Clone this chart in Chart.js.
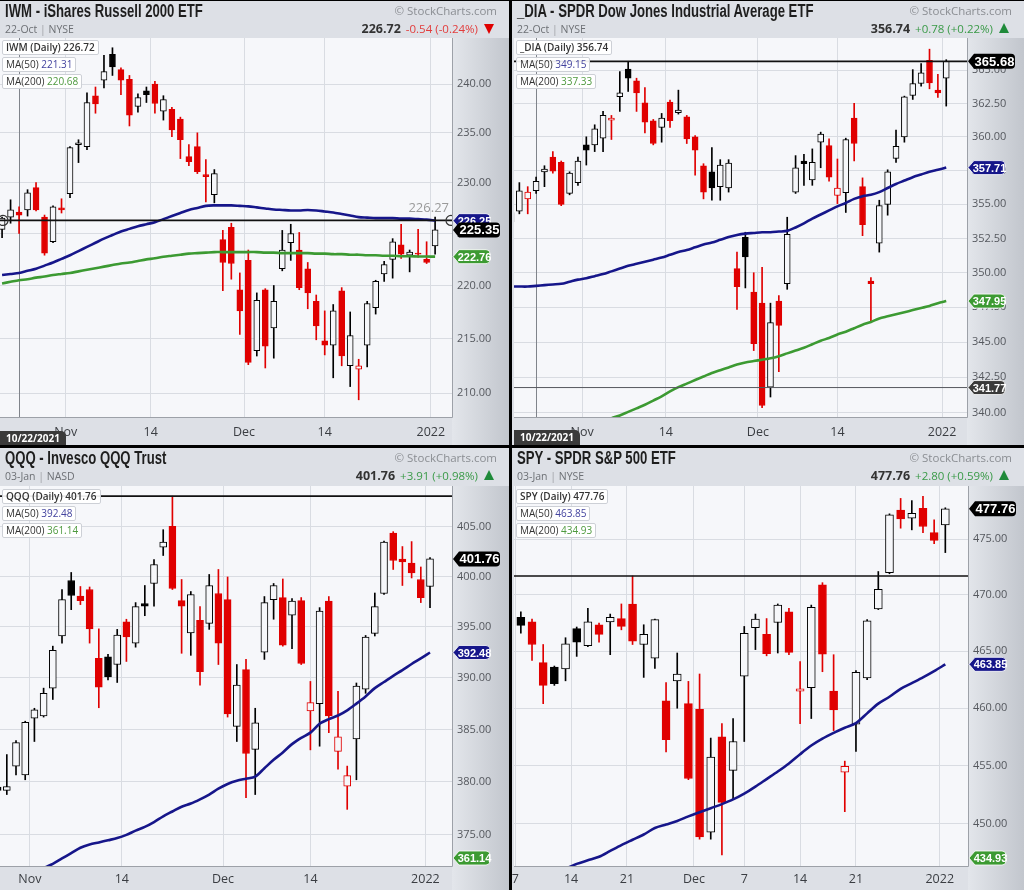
<!DOCTYPE html>
<html>
<head>
<meta charset="utf-8">
<script src="https://cdn.jsdelivr.net/npm/chart.js@4.4.0/dist/chart.umd.min.js"></script>
<style>
body{margin:0;width:1024px;height:890px;background:#000;position:relative;overflow:hidden;font-family:"Open Sans",sans-serif}
.panel{position:absolute;background:#dde0e6;overflow:hidden}
.panel canvas{position:absolute;left:0;top:0}
.title{position:absolute;left:5px;top:0;font:bold 18px/20px "Liberation Sans",Arial,sans-serif;color:#1e1e1e;white-space:nowrap;transform:scaleX(0.73);transform-origin:0 0}
.copy{position:absolute;right:12px;top:3px;font-size:11.5px;line-height:14px;color:#8b8e93}
.sub{position:absolute;left:5px;top:22px;font-size:10.5px;line-height:13px;color:#6d7075}
.sub span{color:#a0a3a8}
.quote{position:absolute;right:15px;top:21px;font-size:11.5px;line-height:14px;color:#333;white-space:nowrap}
.quote b{font-weight:700;font-size:12.5px;margin-right:5px}
.dn{color:#e23c3c}
.up{color:#3a9a48}
.tri-dn{display:inline-block;width:0;height:0;border-left:5px solid transparent;border-right:5px solid transparent;border-top:10px solid #e00000;margin-left:6px;vertical-align:-1px}
.tri-up{display:inline-block;width:0;height:0;border-left:5px solid transparent;border-right:5px solid transparent;border-bottom:10px solid #1f8a3a;margin-left:6px;vertical-align:0}
.leg{position:absolute}
.lb{width:fit-content;background:rgba(255,255,255,0.92);border:1px solid #cdd0d6;border-radius:2px;padding:0 3px;font-size:10px;line-height:13px;color:#333;margin-bottom:2px;white-space:nowrap}
.lb b{font-weight:600}
.v50{color:#43439e}
.v200{color:#4f9a3f}
.datebox{position:absolute;width:66px;height:15px;background:#3a3a3a;border-radius:0 5px 0 0;color:#fff;font-size:10px;font-weight:700;line-height:15px;text-align:center}
</style>
</head>
<body>

<div class="panel" style="left:0;top:1px;width:509px;height:444px">
  <canvas id="c1" width="509" height="444"></canvas>
  <div class="title">IWM - iShares Russell 2000 ETF</div>
  <div class="copy">© StockCharts.com</div>
  <div class="sub">22-Oct <span>|</span> NYSE</div>
  <div class="quote"><b>226.72</b><span class="dn">-0.54 (-0.24%)</span><i class="tri-dn"></i></div>
  <div class="leg" style="left:2px;top:39px">
    <div class="lb"><b>IWM (Daily) 226.72</b></div>
    <div class="lb">MA(50) <span class="v50">221.31</span></div>
    <div class="lb">MA(200) <span class="v200">220.68</span></div>
  </div>
  <div class="datebox" style="left:0;top:430px">10/22/2021</div>
</div>

<div class="panel" style="left:512px;top:1px;width:512px;height:444px">
  <canvas id="c2" width="512" height="444"></canvas>
  <div class="title">_DIA - SPDR Dow Jones Industrial Average ETF</div>
  <div class="copy">© StockCharts.com</div>
  <div class="sub">22-Oct <span>|</span> NYSE</div>
  <div class="quote"><b>356.74</b><span class="up">+0.78 (+0.22%)</span><i class="tri-up"></i></div>
  <div class="leg" style="left:4px;top:39px">
    <div class="lb"><b>_DIA (Daily) 356.74</b></div>
    <div class="lb">MA(50) <span class="v50">349.15</span></div>
    <div class="lb">MA(200) <span class="v200">337.33</span></div>
  </div>
  <div class="datebox" style="left:2px;top:429px">10/22/2021</div>
</div>

<div class="panel" style="left:0;top:448px;width:509px;height:442px">
  <canvas id="c3" width="509" height="442"></canvas>
  <div class="title">QQQ - Invesco QQQ Trust</div>
  <div class="copy">© StockCharts.com</div>
  <div class="sub">03-Jan <span>|</span> NASD</div>
  <div class="quote"><b>401.76</b><span class="up">+3.91 (+0.98%)</span><i class="tri-up"></i></div>
  <div class="leg" style="left:2px;top:41px">
    <div class="lb"><b>QQQ (Daily) 401.76</b></div>
    <div class="lb">MA(50) <span class="v50">392.48</span></div>
    <div class="lb">MA(200) <span class="v200">361.14</span></div>
  </div>
</div>

<div class="panel" style="left:512px;top:448px;width:512px;height:442px">
  <canvas id="c4" width="512" height="442"></canvas>
  <div class="title">SPY - SPDR S&amp;P 500 ETF</div>
  <div class="copy">© StockCharts.com</div>
  <div class="sub">03-Jan <span>|</span> NYSE</div>
  <div class="quote"><b>477.76</b><span class="up">+2.80 (+0.59%)</span><i class="tri-up"></i></div>
  <div class="leg" style="left:4px;top:41px">
    <div class="lb"><b>SPY (Daily) 477.76</b></div>
    <div class="lb">MA(50) <span class="v50">463.85</span></div>
    <div class="lb">MA(200) <span class="v200">434.93</span></div>
  </div>
</div>

<script>
// x values are trading-day numbers, 0 = Nov 1 2021, 43 = Jan 3 2022
const monthTicks = [-0.5, 9.5, 20.5, 30, 42.5];
const monthLabels = ['Nov', '14', 'Dec', '14', '2022'];
const weekTicks = [4.5, 9.5, 14.5, 20.5, 25, 30, 35, 42.5];
const weekLabels = ['7', '14', '21', 'Dec', '7', '14', '21', '2022'];

// IWM, days -8 .. 43
const iwmStart = -8;
const iwmOpen = [225.4, 226.6, 227.1, 227.3, 229.5, 226.6, 224.2, 227.5,
  228.9, 233.8, 233.6, 238.8, 240.4, 243.1, 241.5, 240.5, 237.7, 239.3,
  240.0, 237.2, 237.4, 236.4, 232.6, 233.6, 230.8, 228.8, 224.4, 225.6,
  219.6, 222.4, 213.9, 219.6, 216.0, 221.6, 224.1, 223.4, 221.6, 218.5,
  214.8, 214.4, 219.5, 212.5, 212.2, 214.4, 217.9, 221.1, 222.5, 223.9,
  222.9, 223.1, 222.5, 223.8];
const iwmHigh = [226.6, 228.3, 227.6, 229.3, 230.0, 226.8, 227.7, 228.4,
  233.6, 234.3, 239.1, 239.7, 243.0, 243.8, 241.7, 240.9, 239.0, 239.7,
  240.3, 238.8, 237.6, 236.6, 233.8, 235.0, 232.3, 231.3, 225.3, 226.0,
  221.2, 223.4, 219.3, 219.7, 220.0, 225.3, 225.9, 225.1, 222.2, 219.1,
  217.6, 218.2, 219.8, 217.5, 213.1, 218.5, 220.5, 222.3, 224.5, 225.9,
  223.4, 225.4, 224.2, 226.6];
const iwmLow = [224.6, 226.0, 225.0, 226.7, 227.2, 222.9, 224.1, 227.0,
  228.5, 232.0, 233.3, 237.0, 239.6, 240.9, 238.9, 235.7, 237.1, 238.1,
  237.0, 236.3, 234.6, 232.4, 231.7, 230.9, 228.1, 228.0, 219.5, 220.6,
  215.4, 212.6, 213.4, 212.3, 213.2, 221.4, 222.4, 219.6, 217.8, 214.9,
  213.5, 211.4, 212.5, 210.6, 209.4, 212.4, 217.3, 220.4, 220.7, 222.6,
  221.3, 222.7, 222.1, 223.0];
const iwmClose = [226.5, 227.3, 226.8, 229.0, 227.3, 223.1, 227.6, 227.3,
  233.5, 234.0, 238.1, 237.95, 241.3, 241.8, 240.4, 236.8, 238.6, 238.9,
  238.0, 238.4, 235.3, 234.3, 232.1, 231.1, 230.6, 230.9, 222.2, 222.1,
  217.6, 212.8, 218.6, 214.3, 218.5, 223.4, 225.0, 219.8, 219.3, 216.2,
  214.4, 217.6, 213.4, 215.3, 212.5, 218.3, 220.4, 222.0, 224.2, 223.0,
  223.2, 223.0, 222.2, 225.35];
const iwmMa50 = [221.0, 221.1, 221.2, 221.4, 221.6, 221.9, 222.2, 222.55,
  222.9, 223.3, 223.7, 224.1, 224.5, 224.85, 225.2, 225.45, 225.7, 225.9,
  226.1, 226.4, 226.7, 227.0, 227.3, 227.5, 227.7, 227.75, 227.75, 227.75,
  227.7, 227.65, 227.55, 227.45, 227.35, 227.3, 227.25, 227.25, 227.3, 227.25,
  227.15, 227.05, 226.9, 226.75, 226.6, 226.55, 226.5, 226.5, 226.5, 226.45,
  226.45, 226.4, 226.35, 226.25];
const iwmMa200 = [220.2, 220.35, 220.5, 220.6, 220.75, 220.85, 221.0, 221.1,
  221.2, 221.35, 221.5, 221.65, 221.8, 221.95, 222.1, 222.2, 222.35, 222.5,
  222.6, 222.75, 222.85, 222.95, 223.05, 223.1, 223.15, 223.2, 223.2, 223.2,
  223.2, 223.2, 223.2, 223.15, 223.15, 223.1, 223.1, 223.1, 223.1, 223.05,
  223.05, 223.0, 223.0, 222.95, 222.95, 222.9, 222.9, 222.85, 222.85, 222.8,
  222.8, 222.78, 222.77, 222.76];
const iwmYTicks = [210, 215, 220, 225, 230, 235, 240];
const iwmLevels = [226.27];

// DIA, days -9 .. 43
const diaStart = -9;
const diaOpen = [354.4, 354.5, 355.4, 356.0, 357.4, 358.5, 358.1, 355.8, 356.6,
  359.4, 359.4, 359.9, 361.25, 363.0, 365.1, 364.2, 362.55, 361.2, 360.7,
  362.6, 361.8, 361.5, 360.0, 357.85, 357.4, 356.3, 356.2, 350.3, 352.57,
  348.6, 347.8, 341.8, 347.95, 349.2, 355.9, 358.2, 356.8, 359.6, 359.35,
  355.65, 355.85, 361.4, 356.3, 349.4, 352.15, 355.0, 358.4, 360.0, 363.1,
  364.0, 365.75, 363.5, 364.4];
const diaHigh = [354.6, 356.6, 356.3, 357.0, 357.85, 358.9, 358.2, 357.4, 358.5,
  360.0, 360.9, 361.9, 361.6, 364.9, 365.68, 364.4, 363.7, 361.3, 361.75,
  362.75, 363.5, 361.6, 360.1, 358.0, 359.2, 358.3, 358.3, 351.5, 352.95,
  350.0, 350.4, 347.8, 348.35, 354.05, 358.6, 358.7, 359.1, 360.35, 359.85,
  358.35, 359.9, 362.5, 356.95, 349.65, 355.3, 357.55, 360.5, 363.05, 365.05,
  365.5, 366.6, 364.7, 365.8];
const diaLow = [353.5, 354.3, 354.3, 355.8, 356.3, 357.3, 354.9, 355.7, 356.4,
  357.9, 358.9, 358.9, 359.8, 361.9, 363.4, 361.9, 360.3, 359.4, 359.6,
  360.7, 361.7, 359.5, 357.15, 355.4, 355.3, 355.3, 355.9, 347.35, 348.9,
  344.4, 340.35, 341.1, 342.9, 348.8, 355.8, 356.4, 356.4, 357.7, 356.7,
  355.05, 354.4, 358.2, 352.7, 346.4, 351.5, 354.2, 358.1, 359.6, 362.8,
  363.8, 363.6, 362.95, 362.3];
const diaClose = [353.7, 356.0, 355.9, 356.7, 357.6, 357.45, 355.0, 357.3, 358.2,
  359.0, 360.6, 361.6, 361.4, 363.3, 364.4, 363.3, 361.1, 359.5, 361.4,
  361.2, 362.0, 359.85, 359.0, 355.9, 356.2, 357.9, 358.05, 349.0, 351.15,
  344.9, 340.5, 346.4, 346.2, 352.8, 357.7, 358.0, 358.1, 360.2, 357.0,
  356.2, 359.8, 359.5, 353.5, 349.2, 354.9, 357.4, 359.3, 363.0, 364.0,
  364.8, 364.05, 363.3, 365.68];
const diaMa50 = [349.0, 349.0, 349.0, 349.05, 349.1, 349.15, 349.2, 349.35, 349.5,
  349.6, 349.75, 349.9, 350.1, 350.3, 350.5, 350.65, 350.8, 350.95, 351.1,
  351.3, 351.5, 351.65, 351.85, 352.05, 352.2, 352.4, 352.6, 352.75, 352.85,
  352.9, 352.95, 352.95, 353.0, 353.05, 353.3, 353.6, 353.95, 354.25, 354.55,
  354.85, 355.1, 355.4, 355.6, 355.7, 355.9, 356.2, 356.5, 356.75, 357.0,
  357.2, 357.4, 357.55, 357.71];
const diaMa200 = [336.6, 336.85, 337.1, 337.35, 337.6, 337.85, 338.1, 338.35, 338.6,
  338.85, 339.1, 339.35, 339.6, 339.8, 340.05, 340.3, 340.55, 340.85, 341.15,
  341.5, 341.8, 342.05, 342.3, 342.55, 342.8, 343.0, 343.2, 343.4, 343.55,
  343.65, 343.75, 343.85, 344.0, 344.2, 344.4, 344.6, 344.85, 345.1, 345.3,
  345.55, 345.75, 346.0, 346.25, 346.45, 346.7, 346.85, 347.0, 347.15, 347.3,
  347.45, 347.6, 347.8, 347.95];
const diaYTicks = [340, 342.5, 345, 347.5, 350, 352.5, 355, 357.5, 360, 362.5, 365];
const diaLevels = [365.68, 341.77];

// QQQ, days -4 .. 43
const qqqStart = -4;
const qqqOpen = [379.5, 379.2, 381.5, 380.65,
  386.1, 386.3, 389.0, 394.1, 399.6, 398.05, 398.7, 391.9, 392.05, 391.3,
  395.5, 393.4, 397.3, 399.3, 402.95, 405.05, 397.6, 394.4, 395.65, 395.35,
  398.3, 397.7, 385.3, 390.8, 383.1, 392.5, 397.7, 397.9, 396.15, 397.6,
  386.8, 387.5, 397.55, 382.9, 379.6, 384.1, 388.9, 394.35, 398.3, 404.35,
  401.75, 401.35, 399.7, 399.0];
const qqqHigh = [379.8, 382.6, 383.95, 385.8,
  387.05, 389.0, 393.1, 398.7, 400.4, 399.0, 398.95, 394.8, 392.3, 394.75,
  395.75, 397.4, 399.1, 401.7, 404.7, 408.1, 399.7, 398.5, 397.0, 400.2,
  400.7, 399.95, 391.3, 391.8, 387.05, 398.0, 399.3, 399.75, 397.8, 397.9,
  389.65, 396.9, 398.0, 388.7, 381.5, 389.5, 394.15, 398.35, 403.55, 404.5,
  403.0, 403.5, 400.95, 401.9];
const qqqLow = [378.8, 378.8, 380.65, 380.2,
  383.85, 386.2, 387.9, 393.4, 396.7, 397.2, 393.4, 387.1, 389.8, 389.55,
  391.6, 393.0, 396.1, 397.05, 402.1, 398.7, 392.4, 392.2, 389.3, 394.75,
  391.3, 386.2, 383.85, 378.5, 378.8, 391.8, 395.75, 393.1, 392.85, 391.3,
  383.05, 383.4, 384.7, 381.2, 377.4, 380.2, 388.5, 394.1, 398.2, 400.7,
  399.1, 399.85, 397.4, 396.9];
const qqqClose = [379.2, 379.55, 383.75, 385.7,
  386.9, 388.5, 392.7, 397.7, 398.1, 397.6, 394.8, 389.1, 390.1, 394.2,
  394.0, 397.0, 397.05, 401.2, 403.45, 398.8, 397.05, 398.2, 390.6, 399.1,
  393.4, 386.5, 389.3, 382.7, 385.65, 397.4, 399.1, 393.2, 397.55, 391.4,
  387.6, 396.55, 386.3, 384.3, 380.6, 389.2, 394.0, 397.0, 403.45, 401.6,
  401.45, 400.35, 397.9, 401.76];
const qqqMa50 = [369.5, 370.0, 370.5, 371.0,
  371.4, 371.9, 372.3, 372.8, 373.3, 373.8, 374.1, 374.3, 374.5, 374.7,
  375.0, 375.4, 375.75, 376.2, 376.75, 377.2, 377.65, 377.95, 378.35, 378.8,
  379.35, 379.8, 380.1, 380.3, 380.5, 381.3, 382.1, 382.8, 383.6, 384.2,
  384.7, 385.55, 386.0, 386.35, 386.85, 387.5, 388.2, 389.0, 389.6, 390.2,
  390.75, 391.35, 391.9, 392.48];
const qqqMa200Last = 361.14;
const qqqYTicks = [375, 380, 385, 390, 395, 400, 405];
const qqqLevels = [408.1];

// SPY, days 4 .. 43
const spyStart = 4;
const spyOpen = [467.5, 468.0, 467.6, 464.0, 463.6, 463.45,
  467.0, 465.5, 467.35, 467.6, 467.9, 469.2, 465.6, 464.4, 460.65, 462.4,
  460.4, 459.9, 449.3, 457.5, 454.6, 462.8, 467.1, 466.5, 467.55, 468.5,
  461.5, 461.8, 470.9, 461.5, 454.45, 458.6, 462.65, 468.75, 472.0, 477.65,
  476.9, 477.8, 475.6, 476.3];
const spyHigh = [467.8, 468.5, 467.85, 465.6, 463.7, 466.2,
  467.15, 468.8, 467.5, 468.3, 469.2, 471.7, 467.35, 467.85, 462.25, 464.85,
  462.35, 463.0, 457.4, 458.65, 459.1, 467.2, 468.3, 467.9, 469.2, 468.8,
  464.1, 469.1, 471.1, 464.7, 455.4, 463.3, 467.8, 472.1, 477.3, 478.7,
  478.5, 478.9, 476.75, 477.85];
const spyLow = [466.5, 466.6, 464.2, 460.4, 462.0, 462.4,
  464.55, 465.4, 465.8, 464.7, 466.9, 465.6, 462.7, 463.5, 456.2, 460.0,
  453.8, 448.7, 448.7, 447.35, 452.1, 457.1, 465.15, 464.6, 464.85, 464.7,
  458.65, 459.1, 463.2, 458.05, 451.05, 456.25, 462.5, 468.7, 471.9, 476.0,
  475.85, 475.6, 474.6, 473.8];
const spyClose = [466.9, 467.3, 465.6, 462.0, 462.15, 465.65,
  465.8, 467.6, 466.5, 468.0, 467.2, 465.9, 466.5, 467.8, 457.25, 463.0,
  453.9, 448.9, 455.75, 451.85, 457.1, 466.6, 467.85, 464.8, 469.1, 464.9,
  461.7, 468.9, 464.75, 459.85, 454.95, 463.15, 467.7, 470.5, 477.2, 476.85,
  477.35, 476.15, 474.9, 477.76];
const spyMa50 = [444.0, 444.4, 444.8, 445.3, 445.8, 446.2,
  446.6, 446.9, 447.2, 447.7, 448.2, 448.65, 449.1, 449.65, 449.95, 450.25,
  450.65, 451.0, 451.35, 451.7, 452.1, 452.6, 453.2, 453.85, 454.5, 455.2,
  456.0, 456.75, 457.35, 457.85, 458.3, 458.7, 459.55, 460.4, 461.0, 461.7,
  462.2, 462.7, 463.25, 463.85];
const spyMa200Last = 434.93;
const spyYTicks = [450, 455, 460, 465, 470, 475];
const spyLevels = [471.7];

const RED = '#e00000', BLACK = '#000000', PLOT_BG = '#f6f7fa', GRID = '#d9dce2';
const NAVY = '#16168a', GREEN = '#3c9a32', TEXT = '#3a3d42';

Chart.defaults.font.family = '"Open Sans", sans-serif';

function drawTag(ctx, x, y, text, color, main) {
  const h = main ? 15 : 14, w = main ? 47 : 37, tip = 6, r = 4;
  ctx.beginPath();
  ctx.moveTo(x, y);
  ctx.lineTo(x + tip, y - h / 2);
  ctx.lineTo(x + w - r, y - h / 2);
  ctx.quadraticCurveTo(x + w, y - h / 2, x + w, y - h / 2 + r);
  ctx.lineTo(x + w, y + h / 2 - r);
  ctx.quadraticCurveTo(x + w, y + h / 2, x + w - r, y + h / 2);
  ctx.lineTo(x + tip, y + h / 2);
  ctx.closePath();
  ctx.fillStyle = color;
  ctx.fill();
  if (!main) {
    ctx.strokeStyle = 'rgba(255,255,255,0.8)';
    ctx.lineWidth = 1;
    ctx.stroke();
  }
  ctx.fillStyle = '#fff';
  ctx.font = (main ? 'bold 13px ' : 'bold 11px ') + '"Liberation Sans", sans-serif';
  ctx.textAlign = 'center';
  ctx.textBaseline = 'middle';
  ctx.fillText(text, x + (tip + w) / 2, y + 1);
}

const panelPlugin = {
  id: 'panel',
  beforeDraw(chart) {
    const {ctx, chartArea: a} = chart;
    ctx.save();
    const g = ctx.createLinearGradient(a.right, 0, chart.width, 0);
    g.addColorStop(0, '#e3e6eb');
    g.addColorStop(1, '#c2c6cd');
    ctx.fillStyle = g;
    ctx.fillRect(a.right, a.top, chart.width - a.right, chart.height - a.top);
    ctx.fillStyle = PLOT_BG;
    ctx.fillRect(a.left, a.top, a.right - a.left, a.bottom - a.top);
    ctx.restore();
  },
  beforeDatasetsDraw(chart) {
    const p = chart.config.options.plugins.panel;
    if (p.marker === undefined) return;
    const {ctx, chartArea: a, scales: {x}} = chart;
    const px = Math.round(x.getPixelForValue(p.marker)) + 0.5;
    ctx.save();
    ctx.strokeStyle = '#80848b';
    ctx.lineWidth = 1;
    ctx.beginPath();
    ctx.moveTo(px, a.top);
    ctx.lineTo(px, a.bottom);
    ctx.stroke();
    ctx.restore();
  },
  afterDatasetsDraw(chart) {
    const p = chart.config.options.plugins.panel;
    const {ctx, chartArea: a, scales: {y}} = chart;
    ctx.save();
    ctx.beginPath();
    ctx.rect(a.left, a.top, a.right - a.left, a.bottom - a.top);
    ctx.clip();
    p.levels.forEach((v, i) => {
      const py = y.getPixelForValue(v);
      const thin = p.thinSecond && i === 1;
      ctx.strokeStyle = thin ? '#55585e' : '#111';
      ctx.lineWidth = thin ? 1 : 1.7;
      ctx.beginPath();
      ctx.moveTo(a.left, py);
      ctx.lineTo(a.right, py);
      ctx.stroke();
      if (p.levelEnds && i === 0) {
        ctx.lineWidth = 1.2;
        ctx.strokeStyle = '#333';
        ctx.beginPath(); ctx.arc(a.left + 3, py, 5, 0, Math.PI * 2); ctx.stroke();
        ctx.beginPath(); ctx.arc(a.right - 1, py, 5, 0, Math.PI * 2); ctx.stroke();
        ctx.fillStyle = '#9a9a9a';
        ctx.font = '13px "Open Sans", sans-serif';
        ctx.textAlign = 'right';
        ctx.textBaseline = 'bottom';
        ctx.fillText(v.toFixed(2), a.right - 3, py - 6);
      }
    });
    ctx.restore();
  },
  afterDraw(chart) {
    const p = chart.config.options.plugins.panel;
    const {ctx, chartArea: a, scales: {y}} = chart;
    ctx.save();
    ctx.strokeStyle = '#9da1a8';
    ctx.lineWidth = 1;
    ctx.beginPath();
    ctx.moveTo(a.right + 0.5, a.top);
    ctx.lineTo(a.right + 0.5, a.bottom + 0.5);
    ctx.lineTo(a.left, a.bottom + 0.5);
    ctx.stroke();
    p.tags.forEach(t => {
      let py = y.getPixelForValue(t.value);
      py = Math.max(a.top + 8, Math.min(a.bottom - 8, py));
      drawTag(ctx, a.right + 1, py, t.value.toFixed(2), t.color, t.main);
    });
    ctx.restore();
  }
};

function buildChart(id, d) {
  const xs = d.close.map((v, i) => d.start + i);
  const colorOf = i => (i > 0 && d.close[i] < d.close[i - 1]) ? RED : BLACK;
  const fillOf = i => d.close[i] > d.open[i] ? PLOT_BG : colorOf(i);
  const datasets = [];
  datasets.push({
    type: 'line', order: 0, data: xs.map((x, i) => ({x: x, y: d.ma50[i]})),
    borderColor: NAVY, borderWidth: 2.6, pointRadius: 0, tension: 0.3
  });
  if (d.ma200) {
    datasets.push({
      type: 'line', order: 0, data: xs.map((x, i) => ({x: x, y: d.ma200[i]})),
      borderColor: GREEN, borderWidth: 2.6, pointRadius: 0, tension: 0.3
    });
  }
  datasets.push({
    type: 'bar', order: 1, grouped: false, barThickness: d.bw,
    data: xs.map((x, i) => ({x: x, y: [d.open[i], d.close[i]]})),
    backgroundColor: c => fillOf(c.dataIndex),
    borderColor: c => colorOf(c.dataIndex),
    borderWidth: 1, borderSkipped: false
  });
  datasets.push({
    type: 'bar', order: 2, grouped: false, barThickness: 1,
    data: xs.map((x, i) => ({x: x, y: [d.low[i], d.high[i]]})),
    backgroundColor: c => colorOf(c.dataIndex),
    borderWidth: 0
  });

  const tags = [{value: d.ma50[d.ma50.length - 1], color: NAVY}];
  tags.push({value: d.ma200 ? d.ma200[d.ma200.length - 1] : d.ma200Last, color: GREEN});
  if (d.extraTag !== undefined) tags.push({value: d.extraTag, color: '#3a3a3a'});
  tags.push({value: d.close[d.close.length - 1], color: '#000', main: true});

  return new Chart(document.getElementById(id), {
    type: 'bar',
    data: {datasets: datasets},
    options: {
      responsive: false,
      animation: false,
      events: [],
      layout: {autoPadding: false, padding: {left: d.padL, top: d.padT, right: 0, bottom: 0}},
      plugins: {
        legend: {display: false},
        tooltip: {enabled: false},
        panel: {marker: d.marker, levels: d.levels, levelEnds: d.levelEnds, thinSecond: d.thinSecond, tags: tags}
      },
      scales: {
        x: {
          type: 'linear', min: d.xMin, max: d.xMax, offset: false, bounds: 'data',
          grid: {color: GRID, drawTicks: false, offset: false},
          border: {display: false},
          ticks: {autoSkip: false, maxRotation: 0, padding: d.xPad, color: TEXT,
            font: {size: 12.5}, callback: (v, i) => d.xLabels[i]},
          afterBuildTicks: s => { s.ticks = d.xTicks.map(v => ({value: v})); },
          afterFit: s => { s.height = d.xh; s.paddingLeft = 0; s.paddingRight = 0; }
        },
        y: {
          type: 'logarithmic', position: 'right', min: d.yMin, max: d.yMax, bounds: 'data',
          grid: {color: GRID, drawTicks: false},
          border: {display: false},
          ticks: {autoSkip: false, padding: 5, color: '#55585e',
            font: {size: 11},
            callback: (v, i) => d.yTicks[i].toFixed(2)},
          afterBuildTicks: s => { s.ticks = d.yTicks.map(v => ({value: v})); },
          afterFit: s => { s.width = d.yw; s.paddingTop = 0; s.paddingBottom = 0; }
        }
      }
    },
    plugins: [panelPlugin]
  });
}

buildChart('c1', {
  start: iwmStart, open: iwmOpen, high: iwmHigh, low: iwmLow, close: iwmClose,
  ma50: iwmMa50, ma200: iwmMa200, yTicks: iwmYTicks, levels: iwmLevels, levelEnds: true,
  xTicks: monthTicks, xLabels: monthLabels, marker: -6,
  xMin: -8.245, xMax: 44.99, yMin: 207.85, yMax: 244.83,
  bw: 6, padL: 0, padT: 37, xh: 28, yw: 57, xPad: 7.5
});
buildChart('c2', {
  start: diaStart, open: diaOpen, high: diaHigh, low: diaLow, close: diaClose,
  ma50: diaMa50, ma200: diaMa200, yTicks: diaYTicks, levels: diaLevels, thinSecond: true,
  extraTag: diaLevels[1],
  xTicks: monthTicks, xLabels: monthLabels, marker: -6,
  xMin: -8.64, xMax: 45.48, yMin: 339.69, yMax: 367.45,
  bw: 6, padL: 2, padT: 37, xh: 28, yw: 57, xPad: 7.5
});
buildChart('c3', {
  start: qqqStart, open: qqqOpen, high: qqqHigh, low: qqqLow, close: qqqClose,
  ma50: qqqMa50, ma200Last: qqqMa200Last, yTicks: qqqYTicks, levels: qqqLevels,
  xTicks: monthTicks, xLabels: monthLabels,
  xMin: -3.74, xMax: 45.39, yMin: 372.1, yMax: 409.14,
  bw: 7, padL: 0, padT: 38, xh: 24, yw: 57, xPad: 6
});
buildChart('c4', {
  start: spyStart, open: spyOpen, high: spyHigh, low: spyLow, close: spyClose,
  ma50: spyMa50, ma200Last: spyMa200Last, yTicks: spyYTicks, levels: spyLevels,
  xTicks: weekTicks, xLabels: weekLabels,
  xMin: 4.387, xMax: 45.03, yMin: 446.42, yMax: 479.83,
  bw: 8, padL: 2, padT: 38, xh: 24, yw: 56, xPad: 6
});
</script>
</body>
</html>
